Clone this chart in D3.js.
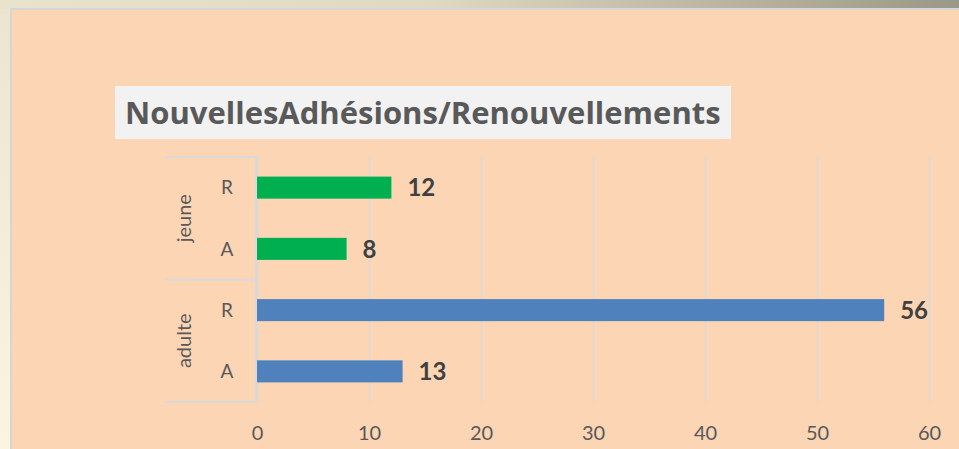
<!DOCTYPE html>
<html>
<head>
<meta charset="utf-8">
<script src="https://cdn.jsdelivr.net/npm/d3@7"></script>
<style>
  body { margin: 0; background: #f3ecd6; }
  svg { display: block; font-family: Lato, "Open Sans", sans-serif; }
</style>
</head>
<body>
<div id="chart"></div>
<script>
// données
const groups = ["jeune", "jeune", "adulte", "adulte"]
const types = ["R", "A", "R", "A"]
const values = [12, 8, 56, 13]
const groupNames = ["jeune", "adulte"]
const groupColors = ["#00b050", "#4f81bd"]
const tickValues = [0, 10, 20, 30, 40, 50, 60]
const title = "NouvellesAdhésions/Renouvellements"

const width = 959
const height = 449
const plot = { left: 257, right: 929, top: 157, bottom: 402 }
const catLeft = 165

const rows = values.map((v, i) => ({ key: groups[i] + "-" + types[i], group: groups[i], type: types[i], value: v }))

const svg = d3.select("#chart").append("svg").attr("width", width).attr("height", height)
const defs = svg.append("defs")

// fond (dégradés du diaporama)
const gLeft = defs.append("linearGradient").attr("id", "gLeft").attr("x1", 0).attr("y1", 0).attr("x2", 0).attr("y2", 1)
gLeft.append("stop").attr("offset", 0).attr("stop-color", "#ebe5cf")
gLeft.append("stop").attr("offset", 1).attr("stop-color", "#fbf5e0")
const gTop = defs.append("linearGradient").attr("id", "gTop").attr("x1", 0).attr("y1", 0).attr("x2", 1).attr("y2", 0)
gTop.append("stop").attr("offset", 0).attr("stop-color", "#e9e3cc")
gTop.append("stop").attr("offset", 0.45).attr("stop-color", "#dfd9c2")
gTop.append("stop").attr("offset", 1).attr("stop-color", "#9a9886")

svg.append("rect").attr("width", width).attr("height", height).attr("fill", "url(#gLeft)")
svg.append("rect").attr("width", width).attr("height", 9).attr("fill", "url(#gTop)")
svg.append("rect").attr("x", 10).attr("y", 8).attr("width", width).attr("height", height).attr("fill", "#d5d5d6")
svg.append("rect").attr("x", 12).attr("y", 10).attr("width", width).attr("height", height).attr("fill", "#fcd5b5")

// titre
svg.append("rect").attr("x", 115).attr("y", 86).attr("width", 616).attr("height", 53).attr("fill", "#f2f2f2")
const titleText = svg.append("text")
    .attr("x", 125).attr("y", 124)
    .attr("font-family", "'Open Sans', sans-serif")
    .attr("font-size", 28).attr("font-weight", "bold").attr("fill", "#595959")
    .text(title)
// on ajuste la taille pour occuper la même largeur que l'original
const natural = titleText.node().getComputedTextLength()
titleText.attr("font-size", Math.min(31, 28 * 597 / natural))

// échelles
const x = d3.scaleLinear().domain([0, 60]).range([plot.left, plot.right])
const y = d3.scaleBand().domain(rows.map(d => d.key)).range([plot.top, plot.bottom])
    .paddingInner(0.64).paddingOuter(0.32)
const color = d3.scaleOrdinal().domain(groupNames).range(groupColors)

// axe x + grille
const xAxis = d3.axisBottom(x).tickValues(tickValues).tickSize(-(plot.bottom - plot.top)).tickPadding(0)
const xAxisGroup = svg.append("g").attr("transform", `translate(0,${plot.bottom})`).call(xAxis)
xAxisGroup.select(".domain").remove()
xAxisGroup.selectAll("line").attr("stroke", "#d9d9d9").attr("stroke-width", 1.5)
xAxisGroup.selectAll("text")
    .attr("y", 31).attr("dy", "0.35em")
    .attr("font-size", 20).attr("font-family", "Lato, sans-serif").attr("fill", "#595959")

// boîte des catégories
const cat = svg.append("g").attr("stroke", "#d9d9d9").attr("stroke-width", 2)
const groupBounds = groupNames.map(g => {
    const keys = rows.filter(d => d.group === g).map(d => d.key)
    const step = y.step()
    return { name: g, y0: y(keys[0]) - (step - y.bandwidth()) / 2, y1: y(keys[keys.length - 1]) + y.bandwidth() + (step - y.bandwidth()) / 2 }
})
groupBounds.forEach(b => {
    cat.append("line").attr("x1", catLeft).attr("x2", plot.left - 1).attr("y1", b.y0).attr("y2", b.y0)
})
cat.append("line").attr("x1", catLeft).attr("x2", plot.left - 1).attr("y1", plot.bottom).attr("y2", plot.bottom)
cat.append("line").attr("x1", plot.left - 1).attr("x2", plot.left - 1).attr("y1", plot.top - 1).attr("y2", plot.bottom)

svg.append("g").selectAll("text").data(groupBounds).join("text")
    .attr("transform", d => `translate(${184},${(d.y0 + d.y1) / 2}) rotate(-90)`)
    .attr("text-anchor", "middle").attr("dy", "0.35em")
    .attr("font-size", 20).attr("fill", "#595959")
    .text(d => d.name)

svg.append("g").selectAll("text").data(rows).join("text")
    .attr("x", 227).attr("y", d => y(d.key) + y.bandwidth() / 2)
    .attr("text-anchor", "middle").attr("dy", "0.36em")
    .attr("font-size", 19).attr("fill", "#595959")
    .text(d => d.type)

// barres
svg.append("g").selectAll("rect").data(rows).join("rect")
    .attr("x", x(0))
    .attr("y", d => y(d.key))
    .attr("width", d => x(d.value) - x(0))
    .attr("height", y.bandwidth())
    .attr("fill", d => color(d.group))

// étiquettes de valeurs
svg.append("g").selectAll("text").data(rows).join("text")
    .attr("x", d => x(d.value) + 16)
    .attr("y", d => y(d.key) + y.bandwidth() / 2)
    .attr("dy", "0.36em")
    .attr("font-size", 24).attr("font-weight", "bold").attr("fill", "#404040")
    .text(d => d.value)
</script>
</body>
</html>
